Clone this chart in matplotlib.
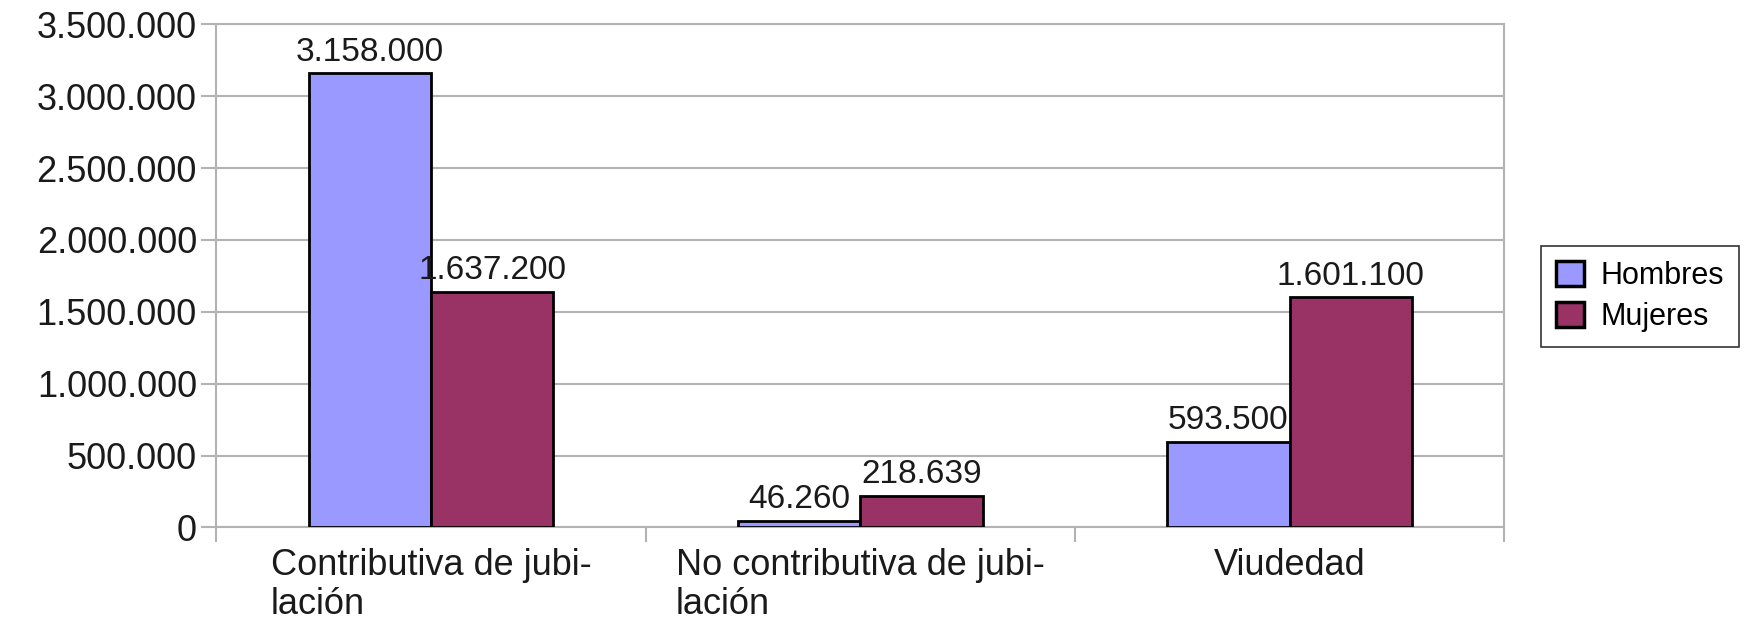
import matplotlib
matplotlib.use("Agg")
import matplotlib.pyplot as plt
import numpy as np
from matplotlib.ticker import FuncFormatter, MultipleLocator

categories = ["Contributiva de jubi-\nlación", "No contributiva de jubi-\nlación", "Viudedad"]
hombres = [3158000, 46260, 593500]
mujeres = [1637200, 218639, 1601100]
series_names = ["Hombres", "Mujeres"]
colors = ["#9999ff", "#993366"]

plt.rcParams["font.family"] = ["Liberation Sans", "DejaVu Sans"]


def dots(v, _pos=None):
    return f"{int(round(v)):,}".replace(",", ".")


fig = plt.figure(figsize=(17.45, 6.22), dpi=100)
ax = fig.add_axes([0.124, 0.152, 0.738, 0.809])

x = np.arange(len(categories))
w = 0.285
b1 = ax.bar(x - w / 2, hombres, w, color=colors[0], edgecolor="black", linewidth=2, label=series_names[0], zorder=3)
b2 = ax.bar(x + w / 2, mujeres, w, color=colors[1], edgecolor="black", linewidth=2, label=series_names[1], zorder=3)

for bars, vals in ((b1, hombres), (b2, mujeres)):
    for r, v in zip(bars, vals):
        ax.text(r.get_x() + r.get_width() / 2, v + 40000, dots(v), ha="center", va="bottom",
                fontsize=24, color="#1a1a1a", zorder=4)

ax.set_xlim(-0.5, len(categories) - 0.5)
ax.set_ylim(0, 3500000)
ax.yaxis.set_major_locator(MultipleLocator(500000))
ax.yaxis.set_major_formatter(FuncFormatter(dots))
ax.grid(axis="y", color="#b3b3b3", linewidth=1.5, zorder=0)

ax.set_xticks(x)
ax.set_xticklabels(categories, fontsize=26, multialignment="left", color="#1a1a1a", linespacing=1.12)
ax.tick_params(axis="x", which="major", length=0, pad=15)
ax.set_xticks(np.arange(-0.5, len(categories)), minor=True)
ax.tick_params(axis="x", which="minor", length=11, width=1.5, color="#b3b3b3")
ax.tick_params(axis="y", length=11, width=1.5, color="#b3b3b3", labelsize=26, labelcolor="#1a1a1a", pad=3)

for s in ax.spines.values():
    s.set_color("#b3b3b3")
    s.set_linewidth(1.5)

leg = fig.legend(loc="upper left", bbox_to_anchor=(0.883, 0.605), fontsize=22, frameon=True,
                 fancybox=False, edgecolor="black", handlelength=0.9, handleheight=0.9,
                 handletextpad=0.55, borderpad=0.5, labelspacing=0.35, borderaxespad=0)
leg.get_frame().set_linewidth(1.2)
for h in leg.legend_handles:
    h.set_linewidth(2.5)

fig.savefig("out.png", dpi=100)
